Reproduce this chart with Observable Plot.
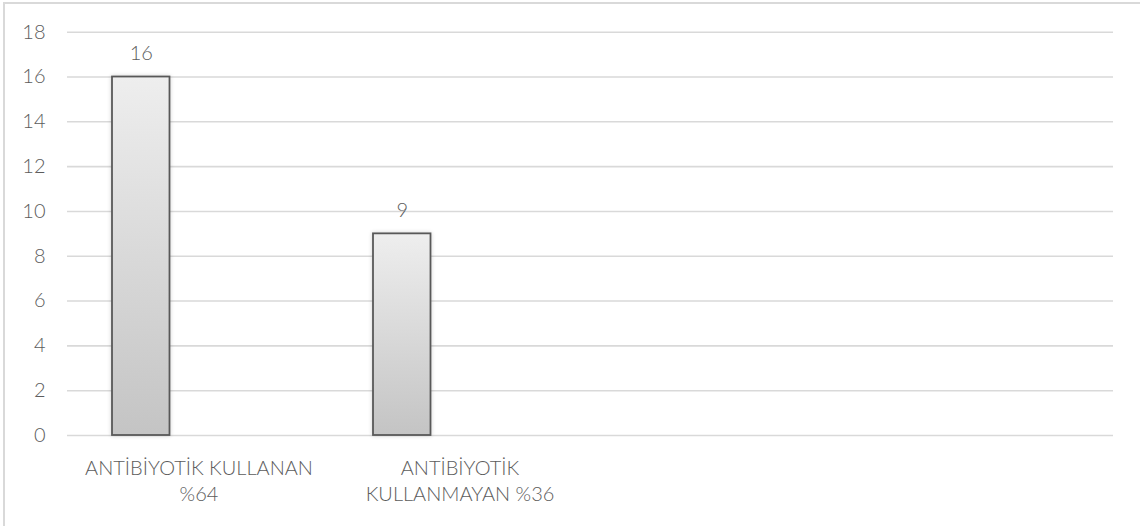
<!DOCTYPE html>
<html>
<head>
<meta charset="utf-8">
<script src="https://cdn.jsdelivr.net/npm/d3@7"></script>
<script src="https://cdn.jsdelivr.net/npm/@observablehq/plot@0.6"></script>
<style>
  body { margin: 0; background: #fff; }
  #chart { position: relative; width: 1140px; height: 526px; overflow: hidden; background: #fff; }
  #chart svg { position: absolute; left: 0; top: 0; }
  #frame { position: absolute; left: 3px; top: 2px; width: 1300px; height: 700px;
           border-left: 2px solid #d9d9d9; border-top: 2px solid #d9d9d9; pointer-events: none; }
</style>
</head>
<body>
<div id="chart"></div>
<script>
// Category slots along the x axis (two filled, two empty)
const slots = [0, 1, 2, 3];
// Category labels, one entry per line
const categoryLines = [
  ["ANTİBİYOTİK KULLANAN", "%64"],
  ["ANTİBİYOTİK", "KULLANMAYAN %36"]
];
// Number of patients in each group
const counts = [16, 9];
// Y axis ticks
const yTicks = [0, 2, 4, 6, 8, 10, 12, 14, 16, 18];

const rows = counts.map((count, i) => ({slot: i, count}));

const textColor = "#5c5c5c";
const gridColor = "#d9d9d9";
const insetLeft = 44;
const insetRight = 159.5;
const width = 1140;
const height = 526;
const marginLeft = 67;
const marginRight = 27;
const step = (width - marginLeft - marginRight) / slots.length;
// offset from band centre to bar centre
const barShift = (insetLeft + (step - insetRight)) / 2 - step / 2;

const chart = Plot.plot({
  width,
  height,
  marginLeft,
  marginRight,
  marginTop: 31.7,
  marginBottom: 91,
  style: {fontFamily: "Lato, sans-serif", fontSize: "20px", fontWeight: 300, color: textColor, background: "transparent"},
  x: {type: "band", domain: slots, padding: 0},
  y: {domain: [0, 18]},
  marks: [
    Plot.gridY(yTicks, {stroke: gridColor, strokeOpacity: 1, strokeWidth: 1.6}),
    Plot.axisY(yTicks, {tickSize: 0, tickPadding: 22, fontSize: 20, fill: textColor, label: null}),
    Plot.axisX([0, 1], {
      tickSize: 0,
      tickPadding: 21,
      fontSize: 20,
      lineHeight: 1.3,
      fill: textColor,
      label: null,
      tickFormat: i => categoryLines[i].join("\n")
    }),
    Plot.barY(rows, {
      x: "slot",
      y: "count",
      insetLeft,
      insetRight,
      fill: "url(#barGradient)",
      stroke: "#595959",
      strokeWidth: 1.8,
      className: "bar"
    }),
    Plot.text(rows, {
      x: "slot",
      y: "count",
      text: d => String(d.count),
      dx: barShift,
      dy: -17,
      lineAnchor: "bottom",
      fontSize: 20,
      fill: textColor
    })
  ]
});

// Vertical gradient used as bar fill, plus a soft halo round each bar
const ns = "http://www.w3.org/2000/svg";
const defs = document.createElementNS(ns, "defs");
defs.innerHTML = `
  <linearGradient id="barGradient" x1="0" y1="0" x2="0" y2="1">
    <stop offset="0" stop-color="#eeeeee"/>
    <stop offset="1" stop-color="#c4c4c4"/>
  </linearGradient>
  <filter id="barShadow" x="-30%" y="-10%" width="160%" height="120%">
    <feGaussianBlur in="SourceAlpha" stdDeviation="2.2"/>
    <feComponentTransfer><feFuncA type="linear" slope="0.18"/></feComponentTransfer>
    <feMerge><feMergeNode/><feMergeNode in="SourceGraphic"/></feMerge>
  </filter>`;
chart.insertBefore(defs, chart.firstChild);
chart.querySelectorAll("g.bar").forEach(g => g.setAttribute("filter", "url(#barShadow)"));

const container = document.getElementById("chart");
container.appendChild(chart);
const frame = document.createElement("div");
frame.id = "frame";
container.appendChild(frame);
</script>
</body>
</html>
